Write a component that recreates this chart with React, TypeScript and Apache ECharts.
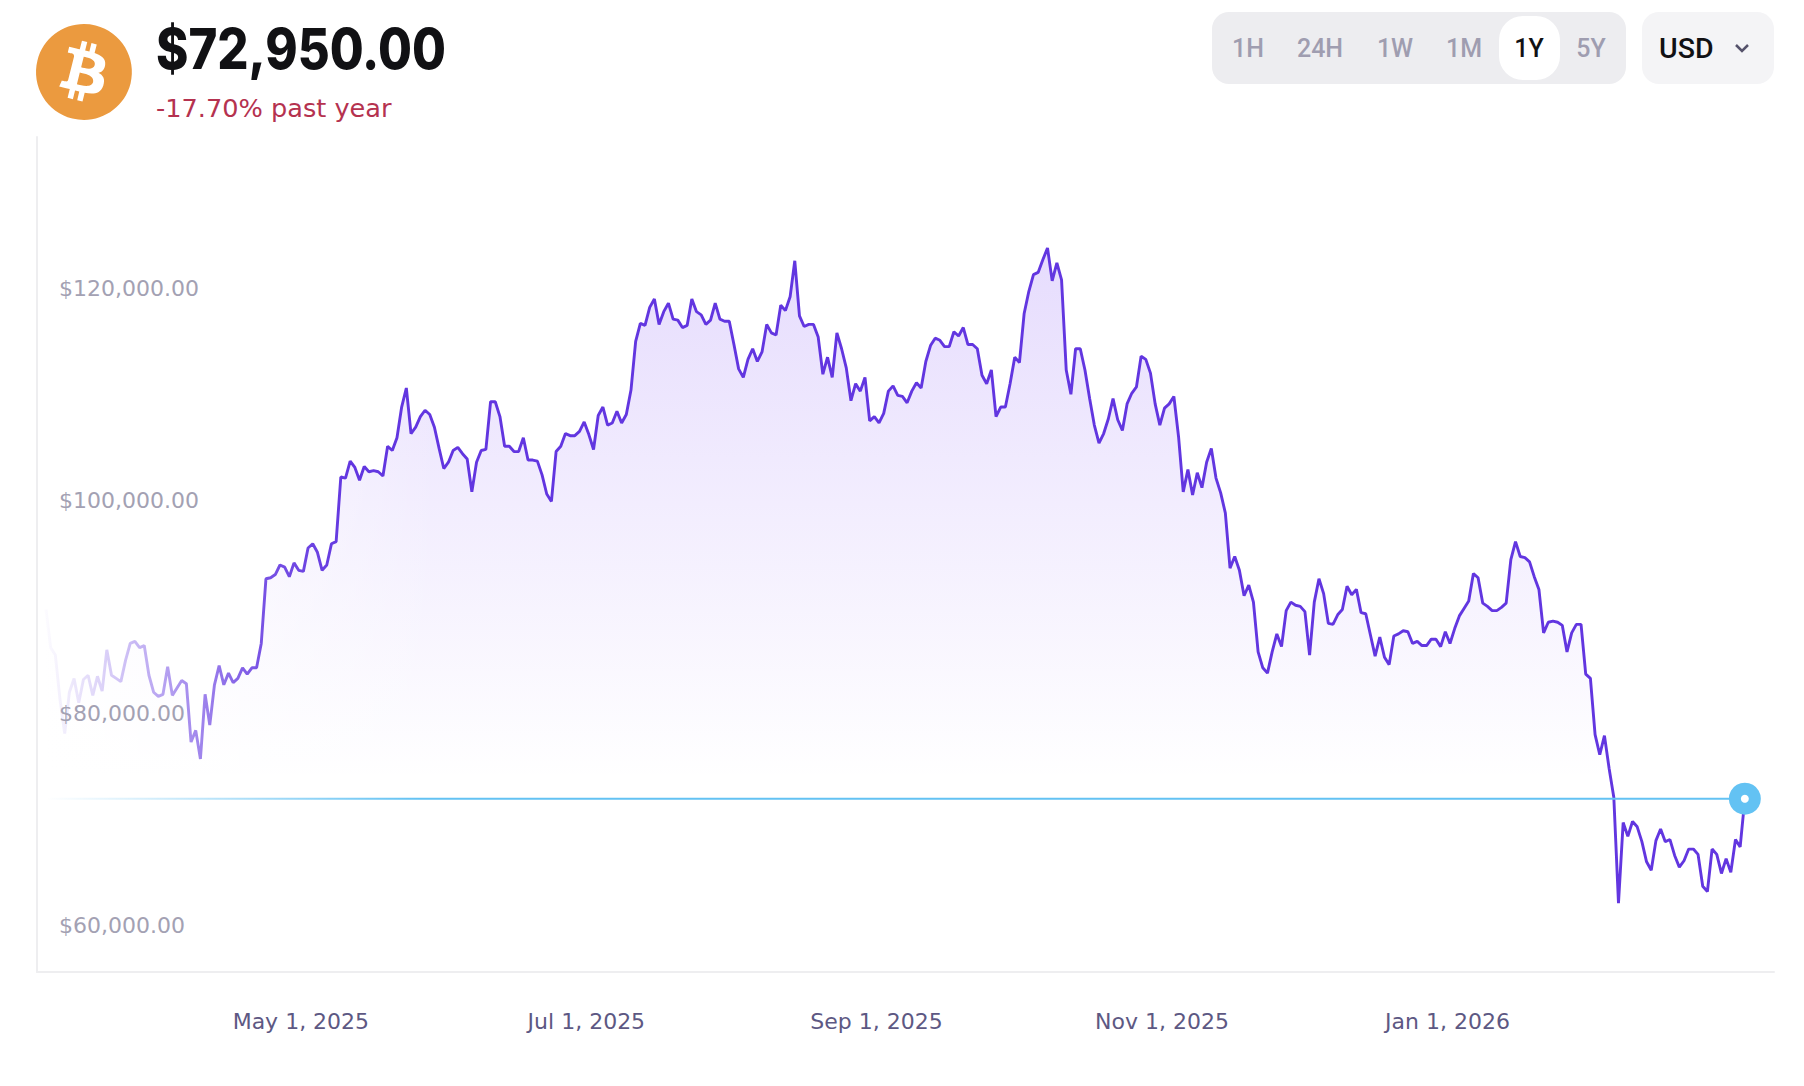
import { useEffect, useRef } from 'react'
import * as echarts from 'echarts'

const bitcoinLogo =
  'M23.638 14.904c-1.602 6.43-8.113 10.34-14.542 8.736C2.67 22.05-1.244 15.525.362 9.105 1.962 2.67 8.475-1.243 14.9.358c6.43 1.605 10.342 8.115 8.738 14.548v-.002zm-6.35-4.613c.24-1.59-.974-2.45-2.64-3.03l.54-2.153-1.315-.33-.525 2.107c-.345-.087-.705-.167-1.064-.25l.526-2.127-1.32-.33-.54 2.165c-.285-.067-.565-.132-.84-.2l-1.815-.45-.35 1.407s.975.225.955.236c.535.136.63.486.615.766l-1.477 5.92c-.075.166-.24.406-.614.314.015.02-.96-.24-.96-.24l-.66 1.51 1.71.426.93.242-.54 2.19 1.32.327.54-2.17c.36.1.705.19 1.05.273l-.51 2.154 1.32.33.545-2.19c2.24.427 3.93.257 4.64-1.774.57-1.637-.03-2.58-1.217-3.196.854-.193 1.5-.76 1.68-1.93h.01zm-3.01 4.22c-.404 1.64-3.157.75-4.05.53l.72-2.9c.896.23 3.757.67 3.33 2.37zm.41-4.24c-.37 1.49-2.662.735-3.405.55l.654-2.64c.744.18 3.137.524 2.75 2.084v.006z'
echarts.graphic.registerShape('btcLogo', echarts.graphic.extendPath(bitcoinLogo, {}))

// daily closes, first point is Mar 7, 2025
const pricesSpring = [
  90800, 87200, 86500, 82300, 79100, 83000, 84300, 82000, 84200, 84600, 82700, 84500, 83100, 87000, 84600, 84300,
  84000, 86000, 87600, 87800, 87200, 87400, 84600, 83000, 82600, 82800, 85400, 82700, 83400, 84100, 83800, 78300,
  79400, 76700, 82800, 79900, 83700, 85500, 83700, 84800, 83900, 84300, 85300, 84700, 85300, 85300, 87600, 93700,
  93800, 94100, 95000, 94800, 93900, 95200, 94500, 94400, 96600, 97000, 96200, 94500, 95000, 97000, 97200, 103300,
  103200, 104800, 104200, 103000, 104300, 103800, 103900, 103800, 103400, 106200, 105800, 107000, 109900, 111700,
  107400, 108000, 109000, 109600, 109200, 108000, 106000, 104100, 104700, 105800, 106100, 105500, 105000
]
const pricesSummer = [
  101900, 104700, 105800, 105900, 110400, 110400, 109000, 106200, 106200, 105700, 105700, 107000, 104900, 104900,
  104800, 103500, 101700, 101000, 105700, 106200, 107400, 107200, 107200, 107600, 108500, 107300, 105900, 109100,
  109900, 108200, 108400, 109500, 108400, 109200, 111500, 116100, 117800, 117600, 119300, 120100, 117700, 118900,
  119700, 118200, 118100, 117400, 117600, 120100, 118900, 118600, 117700, 118100, 119700, 118200, 118000, 118000,
  115800, 113500, 112700, 114400, 115400, 114200, 115100, 117700, 116900, 116700, 119500, 119000, 120300, 123700,
  118500, 117500, 117700, 117700, 116500, 113000, 114600, 112700, 116900, 115400, 113600, 110500, 112100, 111400,
  112700, 108600, 109000, 108400, 109300, 111400, 111900
]
const pricesAutumn = [
  111000, 110900, 110300, 111400, 112200, 111700, 114200, 115700, 116400, 116200, 115600, 115600, 117000, 116600,
  117400, 115800, 115800, 115400, 112900, 112100, 113400, 109000, 109900, 109900, 112100, 114600, 114100, 118700,
  120800, 122400, 122600, 123800, 124900, 121800, 123500, 121900, 113400, 111100, 115400, 115400, 113400, 110700,
  108200, 106500, 107400, 108800, 110700, 108700, 107700, 110200, 111200, 111800, 114700, 114400, 113100, 110200,
  108200, 109800, 110200, 110900, 107100, 101900, 104000, 101600, 103700, 102300, 104700, 106000, 103200, 101800,
  99900, 94700, 95800, 94500, 92100, 93100, 91500, 86800, 85300, 84800, 86800, 88500, 87300, 90700, 91500, 91200,
  91100, 90600, 86500, 91500, 93700
]
const pricesWinter = [
  92300, 89500, 89400, 90300, 90800, 93000, 92200, 92700, 90500, 90400, 88400, 86400, 88200, 86300, 85600, 88300,
  88500, 88800, 88700, 87600, 87800, 87400, 87400, 88000, 88000, 87300, 88700, 87600, 89000, 90200, 90900, 91600,
  94200, 93800, 91400, 91100, 90700, 90700, 91000, 91400, 95500, 97200, 95800, 95700, 95300, 93900, 92700, 88600,
  89600, 89700, 89600, 89300, 86800, 88600, 89400, 89400, 84700, 84300, 79000, 77100, 78900, 75800, 73100, 63100,
  70700, 69400, 70800, 70300, 68900, 67000, 66200, 69000, 70100, 68900, 69100, 67600, 66500, 67100, 68200, 68200,
  67700, 64700, 64200, 68200, 67700, 65900, 67300, 66000, 69100, 68400, 72950
]
const prices = [...pricesSpring, ...pricesSummer, ...pricesAutumn, ...pricesWinter]

const tickDates = [new Date(2025, 4, 1), new Date(2025, 6, 1), new Date(2025, 8, 1), new Date(2025, 10, 1), new Date(2026, 0, 1)]
const tickLabels = ['May 1, 2025', 'Jul 1, 2025', 'Sep 1, 2025', 'Nov 1, 2025', 'Jan 1, 2026']
const priceTicks = [60000, 80000, 100000, 120000]
const ranges = ['1H', '24H', '1W', '1M', '1Y', '5Y']
const rangeCenters = [1248, 1320, 1395, 1464, 1529, 1591]

const points = prices.map((p, i) => [new Date(2025, 2, 7 + i).getTime(), p])
const first = points[0]
const last = points[points.length - 1]

const font = 'Inter, sans-serif'
const buttonFont = 'Roboto, sans-serif'
const labelFont = '"DejaVu Sans", sans-serif'

function headerGraphics() {
  return [
    { type: 'btcLogo', x: 36, y: 24, scaleX: 4, scaleY: 4, style: { fill: '#EB9A3F' } },
    {
      type: 'text', x: 156, y: 49, scaleX: 0.877,
      style: { text: '$72,950.00', font: `800 56px ${font}`, fill: '#111114', verticalAlign: 'middle' }
    },
    {
      type: 'text', x: 156, y: 108,
      style: { text: '-17.70% past year', font: `400 25.6px ${labelFont}`, fill: '#B5324F', verticalAlign: 'middle' }
    },
    { type: 'rect', shape: { x: 1212, y: 12, width: 414, height: 72, r: 17 }, style: { fill: '#EDEDF0' } },
    { type: 'rect', z: 1, shape: { x: 1499, y: 16, width: 61, height: 64, r: 24 }, style: { fill: '#fff' } },
    ...ranges.map((r, i) => ({
      type: 'text', z: 2, x: rangeCenters[i], y: 48,
      style: {
        text: r, font: `500 25px ${buttonFont}`, fill: r === '1Y' ? '#111114' : '#9F9DB0',
        align: 'center', verticalAlign: 'middle'
      }
    })),
    { type: 'rect', shape: { x: 1642, y: 12, width: 132, height: 72, r: 17 }, style: { fill: '#F4F4F6' } },
    {
      type: 'text', x: 1659, y: 48,
      style: { text: 'USD', font: `500 28.5px ${buttonFont}`, fill: '#111114', verticalAlign: 'middle' }
    },
    {
      type: 'polyline',
      shape: { points: [[1736, 45], [1742, 51], [1748, 45]] },
      style: { stroke: '#55526B', lineWidth: 2.5, fill: 'none' }
    },
    // white fade over the left part of the area fill
    {
      type: 'rect', z: 3, silent: true,
      shape: { x: 38, y: 137, width: 402, height: 834 },
      style: {
        fill: new echarts.graphic.LinearGradient(38, 0, 440, 0, [
          { offset: 0, color: 'rgba(255,255,255,1)' },
          { offset: 1, color: 'rgba(255,255,255,0)' }
        ], true)
      }
    }
  ]
}

function App() {
  const chartRef = useRef<HTMLDivElement>(null)

  useEffect(() => {
    if (!chartRef.current) return
    const chart = echarts.init(chartRef.current, undefined, { renderer: 'svg' })

    chart.setOption({
      animation: false,
      backgroundColor: '#fff',
      grid: { left: 37, right: 30, top: 137, bottom: 114 },
      xAxis: {
        // plain value axis holding timestamps, custom label values break on a time axis
        type: 'value',
        min: new Date(2025, 2, 5, 2).getTime(),
        max: new Date(2026, 2, 11, 5, 30).getTime(),
        z: 5,
        axisLine: { lineStyle: { color: '#EEEEF0', width: 2 } },
        axisTick: { show: false },
        splitLine: { show: false },
        axisLabel: {
          customValues: tickDates.map((d) => d.getTime()),
          formatter: (v: number) => tickLabels[tickDates.findIndex((d) => d.getTime() === v)] ?? '',
          color: '#5D5883',
          fontFamily: labelFont,
          fontSize: 22,
          margin: 38,
          padding: [0, 5, 0, 0]
        }
      },
      yAxis: {
        type: 'value',
        min: 56604,
        max: 135377,
        z: 5,
        axisLine: { show: true, lineStyle: { color: '#EEEEF0', width: 2 } },
        axisTick: { show: false },
        splitLine: { show: false },
        axisLabel: {
          customValues: priceTicks,
          inside: true,
          margin: 22,
          verticalAlign: 'bottom',
          formatter: (v: number) => '$' + v.toLocaleString('en-US') + '.00',
          color: '#A3A1B3',
          fontFamily: labelFont,
          fontSize: 22
        }
      },
      series: [
        {
          type: 'line',
          data: points,
          showSymbol: false,
          silent: true,
          z: 2,
          lineStyle: { width: 0 },
          areaStyle: {
            opacity: 1,
            color: new echarts.graphic.LinearGradient(0, 247, 0, 780, [
              { offset: 0, color: 'rgba(124,72,245,0.19)' },
              { offset: 1, color: 'rgba(124,72,245,0)' }
            ], true)
          }
        },
        {
          type: 'line',
          data: points,
          showSymbol: false,
          silent: true,
          z: 4,
          lineStyle: {
            width: 2.9,
            color: new echarts.graphic.LinearGradient(46, 0, 1744, 0, [
              { offset: 0, color: 'rgba(98,54,224,0.02)' },
              { offset: 0.03, color: 'rgba(98,54,224,0.2)' },
              { offset: 0.06, color: 'rgba(98,54,224,0.4)' },
              { offset: 0.09, color: 'rgba(98,54,224,0.6)' },
              { offset: 0.125, color: 'rgba(98,54,224,0.85)' },
              { offset: 0.18, color: 'rgba(98,54,224,1)' },
              { offset: 1, color: 'rgba(98,54,224,1)' }
            ], true)
          }
        },
        {
          type: 'line',
          data: [[first[0], last[1]], last],
          showSymbol: false,
          silent: true,
          z: 4,
          lineStyle: {
            width: 2,
            color: new echarts.graphic.LinearGradient(46, 0, 1744, 0, [
              { offset: 0, color: 'rgba(99,194,243,0)' },
              { offset: 0.1, color: 'rgba(99,194,243,0.45)' },
              { offset: 0.22, color: 'rgba(99,194,243,1)' },
              { offset: 1, color: 'rgba(99,194,243,1)' }
            ], true)
          }
        },
        {
          type: 'scatter',
          data: [last],
          symbolSize: 32,
          silent: true,
          z: 6,
          itemStyle: { color: '#63C2F3', opacity: 1 }
        },
        {
          type: 'scatter',
          data: [last],
          symbolSize: 8,
          silent: true,
          z: 7,
          itemStyle: { color: '#fff', opacity: 1 }
        }
      ],
      graphic: headerGraphics()
    })

    return () => {
      chart.dispose()
    }
  }, [])

  return <div ref={chartRef} style={{ position: 'absolute', left: 0, top: 0, width: 1804, height: 1086 }} />
}

export default App
